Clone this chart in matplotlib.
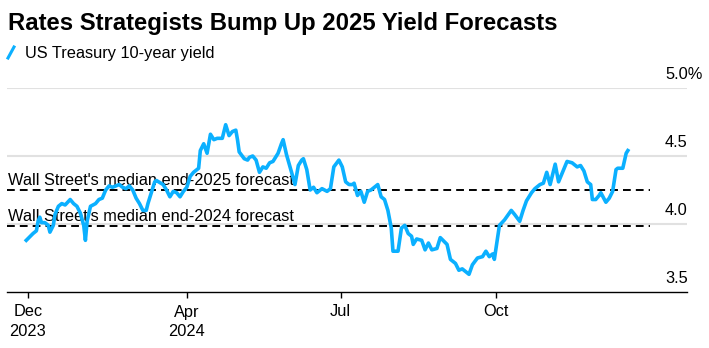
import matplotlib
matplotlib.use("Agg")
import matplotlib.pyplot as plt
import matplotlib.dates as mdates
import matplotlib.transforms as mtransforms
from matplotlib.lines import Line2D
import pandas as pd

plt.rcParams['font.family'] = ['Liberation Sans', 'DejaVu Sans']

# ---- data ----
start_date = "2023-12-29"
day_offsets = [
    -1, 3, 5, 6, 7, 8, 10, 12, 13, 15, 16, 18, 20, 22, 25, 27, 29, 31, 33, 34,
    35, 37, 40, 42, 44, 46, 48, 50, 52, 54, 56, 58, 60, 62, 64, 66, 68, 70, 71, 73,
    75, 76, 80, 82, 84, 86, 88, 90, 92, 94, 96, 98, 101, 102, 104, 106, 108, 110, 112, 115,
    117, 119, 121, 123, 124, 125, 128, 130, 131, 133, 135, 137, 139, 141, 143, 145, 148, 150, 151, 153,
    156, 158, 160, 162, 163, 165, 167, 169, 171, 172, 174, 177, 179, 180, 181, 184, 186, 188, 190, 192,
    193, 195, 197, 199, 201, 203, 205, 207, 209, 211, 213, 215, 216, 219, 221, 223, 225, 227, 228, 230,
    233, 235, 237, 239, 242, 244, 248, 250, 253, 255, 257, 261, 263, 266, 269, 271, 273, 275, 276, 278,
    279, 282, 286, 288, 291, 293, 295, 298, 300, 303, 305, 307, 309, 312, 314, 319, 322, 325, 327, 329,
    331, 333, 334, 336, 338, 339, 342, 344, 346, 348, 349, 352, 354, 355,
]
yields = [
    3.88, 3.93, 3.95, 4.02, 4.05, 4.01, 4.01, 3.99, 3.94, 3.99, 4.07, 4.13, 4.15, 4.14, 4.18, 4.15, 4.13, 4.08, 3.99, 3.88,
    4.02, 4.13, 4.15, 4.18, 4.19, 4.25, 4.28, 4.27, 4.28, 4.29, 4.27, 4.26, 4.28, 4.25, 4.19, 4.15, 4.10, 4.10, 4.15, 4.23,
    4.31, 4.32, 4.29, 4.25, 4.20, 4.24, 4.23, 4.20, 4.24, 4.27, 4.35, 4.38, 4.41, 4.54, 4.59, 4.52, 4.66, 4.62, 4.63, 4.63,
    4.73, 4.65, 4.68, 4.69, 4.62, 4.53, 4.48, 4.47, 4.49, 4.50, 4.47, 4.38, 4.42, 4.41, 4.45, 4.46, 4.52, 4.59, 4.62, 4.51,
    4.38, 4.29, 4.43, 4.47, 4.48, 4.40, 4.25, 4.27, 4.23, 4.24, 4.26, 4.24, 4.26, 4.34, 4.42, 4.47, 4.42, 4.31, 4.29, 4.29,
    4.30, 4.21, 4.24, 4.16, 4.24, 4.25, 4.27, 4.29, 4.20, 4.18, 4.10, 3.97, 3.80, 3.80, 3.97, 3.99, 3.93, 3.91, 3.85, 3.89,
    3.88, 3.81, 3.86, 3.81, 3.82, 3.90, 3.85, 3.74, 3.71, 3.66, 3.67, 3.63, 3.70, 3.75, 3.76, 3.80, 3.76, 3.78, 3.74, 3.91,
    3.99, 4.03, 4.10, 4.07, 4.02, 4.10, 4.17, 4.23, 4.26, 4.29, 4.30, 4.38, 4.29, 4.44, 4.31, 4.46, 4.45, 4.42, 4.43, 4.39,
    4.31, 4.29, 4.18, 4.18, 4.21, 4.23, 4.16, 4.19, 4.24, 4.40, 4.41, 4.41, 4.52, 4.54,
]

forecast_labels = ["Wall Street's median end-2025 forecast",
                   "Wall Street's median end-2024 forecast"]
forecast_values = [4.25, 3.985]
forecast_end = "2024-12-31"

y_ticks = [3.5, 4.0, 4.5, 5.0]
y_tick_labels = ["3.5", "4.0", "4.5", "5.0%"]
x_tick_dates = ["2023-12-29", "2024-04-01", "2024-07-01", "2024-10-01"]
x_tick_labels = ["Dec\n2023", "Apr\n2024", "Jul", "Oct"]

title = "Rates Strategists Bump Up 2025 Yield Forecasts"
legend_label = "US Treasury 10-year yield"

line_color = "#0bb0ff"

# ---- figure ----
W, H = 709, 348
fig = plt.figure(figsize=(W / 100, H / 100), dpi=100)
ax = fig.add_axes([7 / W, 1 - 292 / H, 680 / W, 204 / H])

dates = pd.to_datetime(start_date) + pd.to_timedelta(day_offsets, unit="D")
x0 = mdates.date2num(pd.to_datetime(start_date))
ax.set_xlim(x0 - 12.4, x0 + 390)
ax.set_ylim(3.5, 5.0)

# gridlines
for v in y_ticks[1:]:
    ax.axhline(v, color="#e1e1e1", lw=1.5, zorder=0)

# forecast lines + labels
trans_lbl = mtransforms.blended_transform_factory(ax.transAxes, ax.transData)
for lab, v in zip(forecast_labels, forecast_values):
    ax.hlines(v, x0 - 12.4, mdates.date2num(pd.to_datetime(forecast_end)),
              colors="black", lw=1.4, linestyles=(0, (4, 2.6)), zorder=2)
    ax.text(0.0015, v, lab, transform=mtransforms.offset_copy(trans_lbl, fig=fig, y=3.6, units="points"),
            fontsize=11.8, va="baseline", ha="left", color="black", zorder=3)

ax.plot(dates, yields, color=line_color, lw=2.6, solid_joinstyle="round", zorder=4)

# y labels above gridlines
for v, lab in zip(y_ticks, y_tick_labels):
    ax.text((665 - 7) / 680, v, lab,
            transform=mtransforms.offset_copy(trans_lbl, fig=fig, y=6.8, units="points"),
            fontsize=11.8, va="baseline", ha="left", color="black")
ax.set_yticks([])

# x axis
ax.set_xticks(mdates.date2num(pd.to_datetime(x_tick_dates)))
ax.set_xticklabels(x_tick_labels, fontsize=11.8, linespacing=1.35)
ax.tick_params(axis="x", length=4.5, width=1, pad=4.5, color="black")
for s in ["top", "left", "right"]:
    ax.spines[s].set_visible(False)
ax.spines["bottom"].set_linewidth(1)

# title + legend
fig.text(8 / W, 1 - 30 / H, title, fontsize=17.2, fontweight="bold", va="baseline", ha="left")
fig.add_artist(Line2D([8 / W, 14 / W], [1 - 58 / H, 1 - 47 / H], color=line_color, lw=2.2,
                      transform=fig.transFigure))
fig.text(25 / W, 1 - 58 / H, legend_label, fontsize=11.8, va="baseline", ha="left")

fig.savefig("out.png", dpi=100)
